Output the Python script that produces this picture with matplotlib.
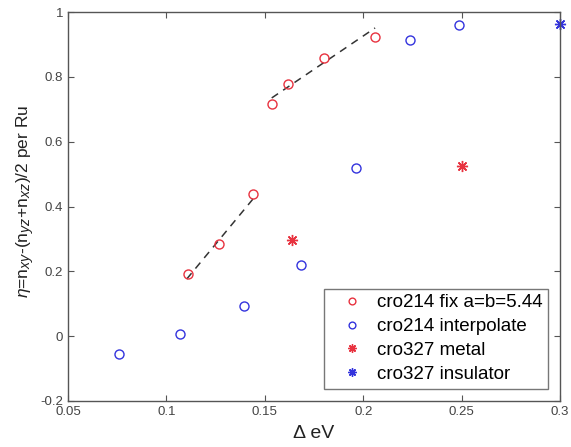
import numpy as np
import matplotlib
matplotlib.use("Agg")
import matplotlib.pyplot as plt
import matplotlib._mathtext as mathtext_impl

plt.rcParams['font.family'] = ['Liberation Sans', 'DejaVu Sans']
plt.rcParams['mathtext.fontset'] = 'custom'
plt.rcParams['mathtext.rm'] = 'Liberation Sans'
plt.rcParams['mathtext.it'] = 'Liberation Sans:italic'
# larger sub/superscripts, closer to TeX-interpreter labels
mathtext_impl.SHRINK_FACTOR = 0.82

# cro214, lattice fixed at a=b=5.44
fix_x = [0.1108, 0.1269, 0.1442, 0.1535, 0.1619, 0.1802, 0.2060]
fix_y = [0.193, 0.285, 0.440, 0.717, 0.778, 0.857, 0.922]

# cro214, interpolated lattice
interp_x = [0.0761, 0.1069, 0.1394, 0.1684, 0.1963, 0.2238, 0.2488]
interp_y = [-0.054, 0.007, 0.093, 0.218, 0.520, 0.915, 0.961]

# cro327
metal_x = [0.1640, 0.2502]
metal_y = [0.296, 0.526]
insul_x = [0.3000]
insul_y = [0.964]

# linear guides through the two branches of the fixed-lattice data
fit1_x = [0.1103, 0.1445]
fit1_y = [0.176, 0.427]
fit2_x = [0.1535, 0.2060]
fit2_y = [0.735, 0.951]

axcol = '#555555'
red = '#e8323f'
blue = '#3333dd'

fig = plt.figure(figsize=(5.71, 4.47), dpi=100)
ax = fig.add_axes([0.119, 0.103, 0.862, 0.870])

ax.plot(fit1_x, fit1_y, '--', color='#333333', lw=1.1, dashes=(5, 4))
ax.plot(fit2_x, fit2_y, '--', color='#333333', lw=1.1, dashes=(5, 4))

ast = (8, 2, 0)
h1, = ax.plot(fix_x, fix_y, 'o', mfc='none', mec=red, ms=6.5, mew=1.0,
              label='cro214 fix a=b=5.44')
h2, = ax.plot(interp_x, interp_y, 'o', mfc='none', mec=blue, ms=6.5, mew=1.0,
              label='cro214 interpolate')
h3, = ax.plot(metal_x, metal_y, ls='none', marker=ast, color=red, ms=8, mew=1.0,
              label='cro327 metal')
h4, = ax.plot(insul_x, insul_y, ls='none', marker=ast, color=blue, ms=8, mew=1.0,
              label='cro327 insulator', clip_on=False)

ax.set_xlim(0.05, 0.3)
ax.set_ylim(-0.2, 1.0)
ax.set_xticks([0.05, 0.1, 0.15, 0.2, 0.25, 0.3])
ax.set_xticklabels(['0.05', '0.1', '0.15', '0.2', '0.25', '0.3'])
ax.set_yticks([-0.2, 0, 0.2, 0.4, 0.6, 0.8, 1.0])
ax.set_yticklabels(['-0.2', '0', '0.2', '0.4', '0.6', '0.8', '1'])

ax.tick_params(direction='in', top=True, right=True, length=4, width=0.8,
               colors=axcol, labelsize=9.5, labelcolor='#444444')
for s in ax.spines.values():
    s.set_color(axcol)
    s.set_linewidth(1.0)

ax.set_xlabel('Δ eV', fontsize=14, color='#222222', labelpad=5)
ax.set_ylabel(r'$\eta$=n$_{xy}$-(n$_{yz}$+n$_{xz}$)/2 per Ru', fontsize=12.5,
              color='#222222', labelpad=2)
ax.yaxis.label.set_y(0.514)

leg = ax.legend(handles=[h1, h2, h3, h4], loc='lower right',
                bbox_to_anchor=(0.976, 0.032), fontsize=13.5, frameon=True,
                fancybox=False, edgecolor=axcol, handlelength=2.4,
                handletextpad=0.15, borderpad=0.3, labelspacing=0.36,
                markerscale=0.75, borderaxespad=0)
leg.get_frame().set_linewidth(1.0)

fig.savefig('out.png', dpi=100)
